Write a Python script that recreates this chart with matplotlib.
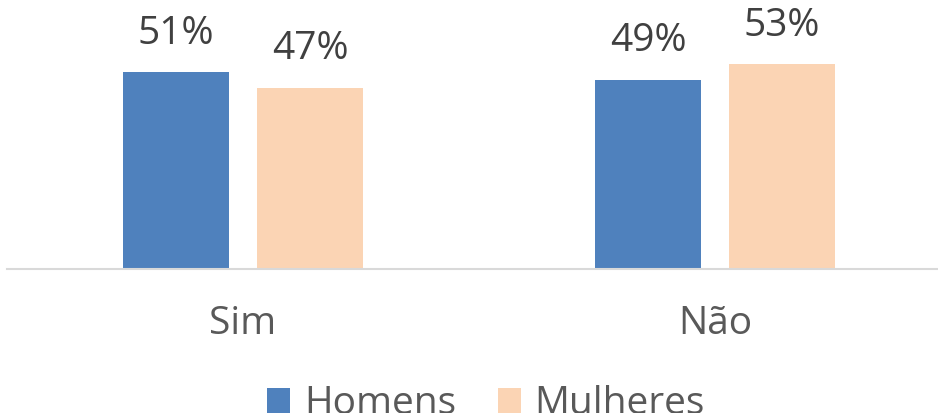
import numpy as np
import matplotlib.pyplot as plt

categories = ['Sim', 'Não']
series_names = ['Homens', 'Mulheres']
homens = [51, 49]
mulheres = [47, 53]

blue = '#4F81BD'
peach = '#FBD4B4'

plt.rcParams['font.family'] = ['Open Sans', 'DejaVu Sans']

fig = plt.figure(figsize=(9.38, 4.13), dpi=100)
ax = fig.add_axes([7 / 938, 1 - 269 / 413, 944 / 938, 269 / 413])

x = np.arange(len(categories))
w = 0.2246
off = 0.142
b1 = ax.bar(x - off, homens, w, color=blue, label=series_names[0], zorder=2)
b2 = ax.bar(x + off, mulheres, w, color=peach, label=series_names[1], zorder=2)

# value labels above each bar
for bars, vals in [(b1, homens), (b2, mulheres)]:
    for r, v in zip(bars, vals):
        ax.annotate(f'{v}%', (r.get_x() + r.get_width() / 2, v),
                    xytext=(0, 14), textcoords='offset points',
                    ha='center', va='bottom', fontsize=28, color='#404040')

ax.set_xlim(-0.5, 1.5)
ax.set_ylim(0, 69.7)
ax.set_xticks(x)
ax.set_xticklabels(categories, fontsize=28, color='#595959')
ax.tick_params(axis='x', length=0, pad=26)
ax.set_yticks([])
for s in ['top', 'right', 'left']:
    ax.spines[s].set_visible(False)
ax.spines['bottom'].set_color('#D9D9D9')
ax.spines['bottom'].set_linewidth(1.5)

fig.legend(handles=[b1, b2], loc='center', bbox_to_anchor=(0.518, 1 - 404 / 413),
           ncol=2, frameon=False, fontsize=28, handlelength=0.6, handleheight=0.6,
           handletextpad=0.35, columnspacing=1.07, labelcolor='#595959')

fig.savefig('out.png', dpi=100)
